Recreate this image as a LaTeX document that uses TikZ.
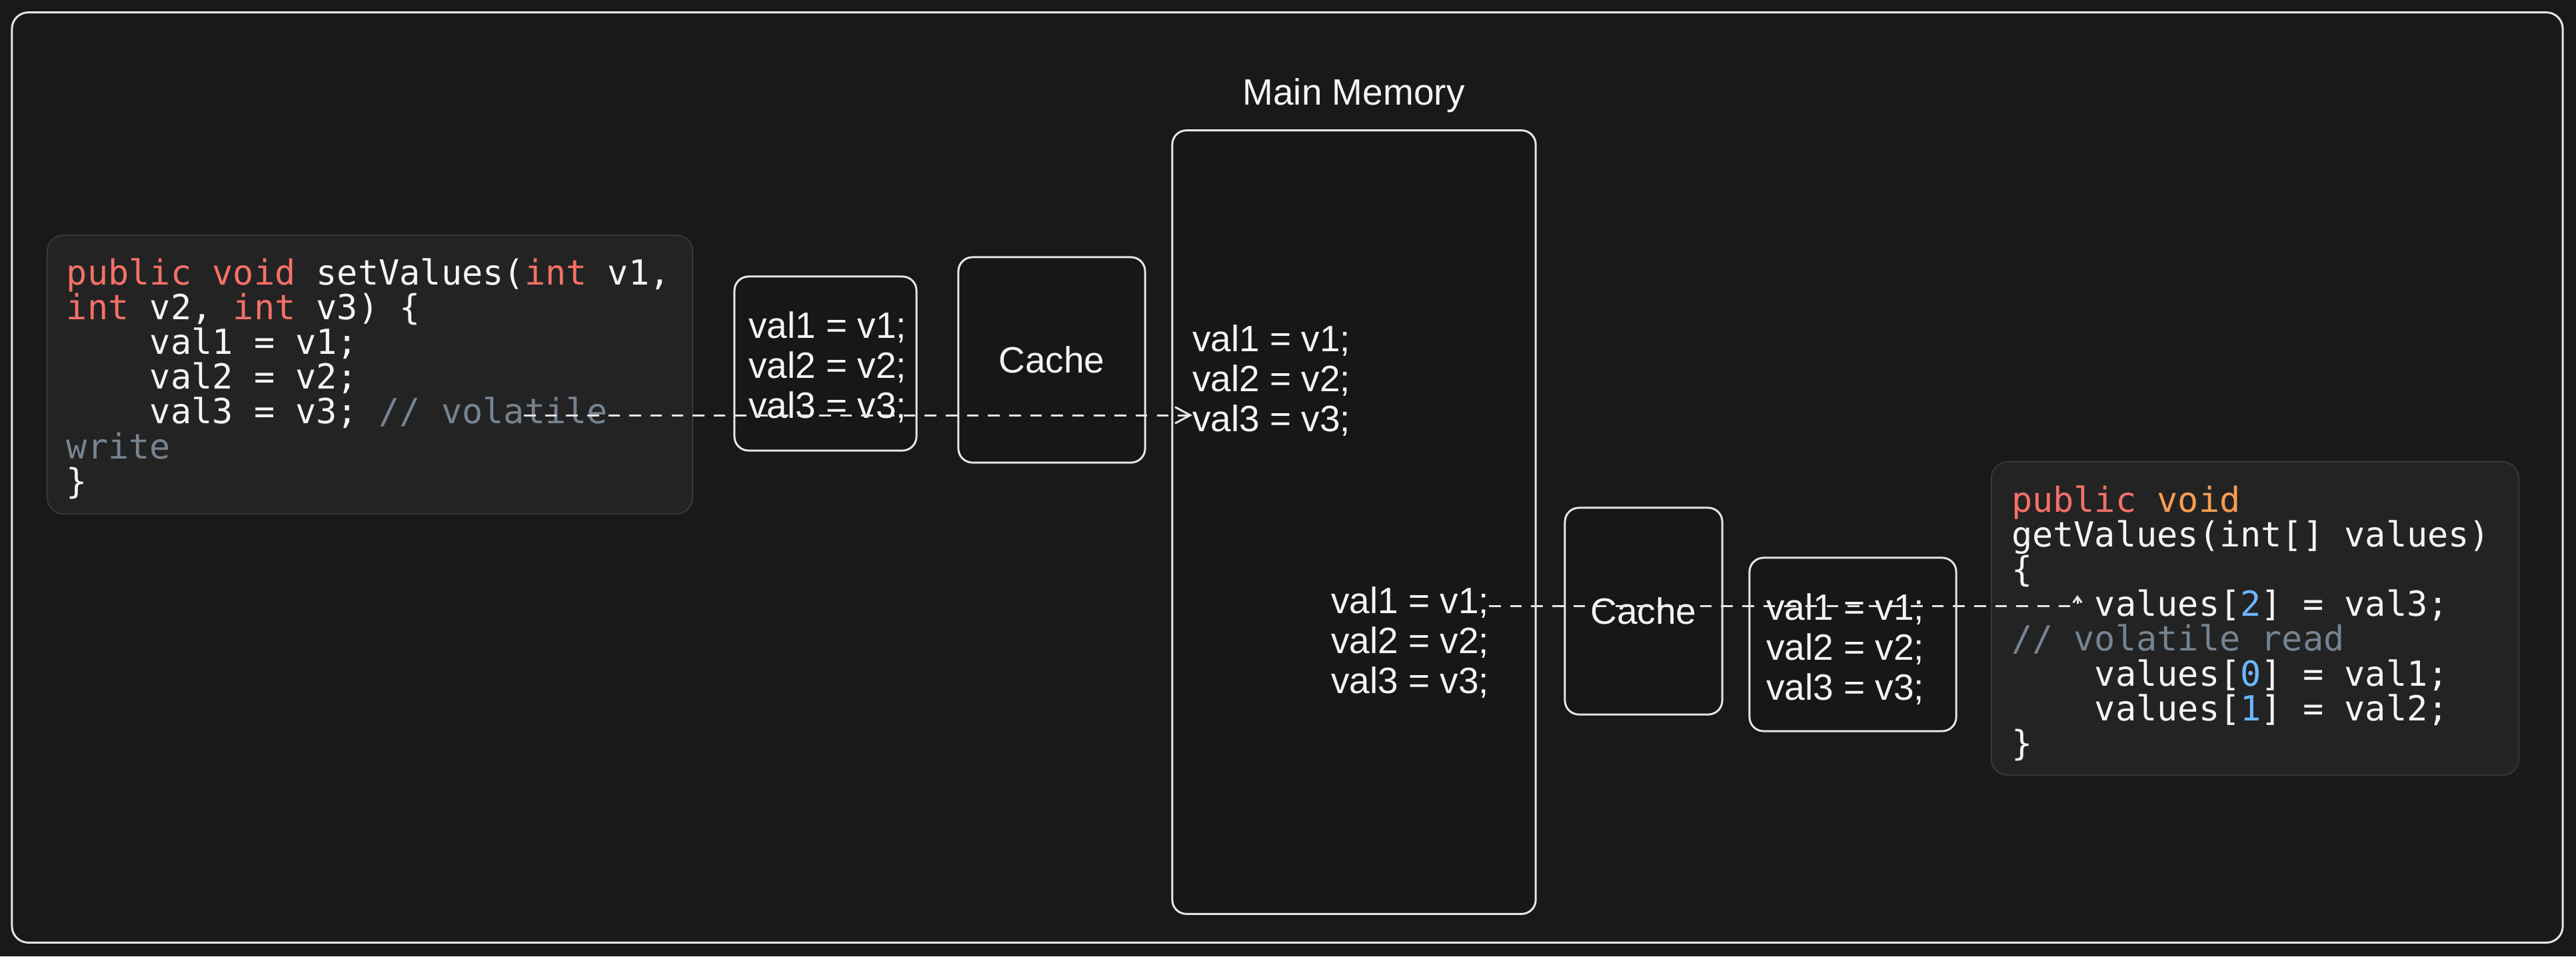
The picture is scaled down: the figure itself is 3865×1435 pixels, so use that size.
\documentclass[tikz,border=0pt]{standalone}
\usepackage{fontspec}
\setmainfont{Liberation Sans}
\newfontfamily\codefont{DejaVu Sans Mono}
\usetikzlibrary{arrows.meta}

\definecolor{bgcol}{HTML}{191919}
\definecolor{boxfill}{HTML}{171717}
\definecolor{codebg}{HTML}{232323}
\definecolor{codeline}{HTML}{363636}
\definecolor{strokecol}{HTML}{E6E6E6}
\definecolor{txtcol}{HTML}{F4F4F4}
\definecolor{kw}{HTML}{F47067}
\definecolor{kwo}{HTML}{F69D50}
\definecolor{cmt}{HTML}{768390}
\definecolor{num}{HTML}{6CB6FF}

\newcommand{\ind}{\hphantom{0000}}
\setlength{\lineskiplimit}{-100pt}

\begin{document}
\frenchspacing
\begin{tikzpicture}[x=0.01cm,y=-0.01cm,->,>={Straight Barb[length=6.5pt,width=7pt]}]
      \tikzstyle{frame}=[draw=strokecol,line width=0.85pt,rounded corners=7pt,inner sep=0pt,outer sep=0pt];
      \tikzstyle{box}=[draw=strokecol,fill=boxfill,line width=0.85pt,rounded corners=6pt,inner sep=0pt,outer sep=0pt,text=txtcol,font={\fontsize{15.65}{17.2}\selectfont}];
      \tikzstyle{codebox}=[draw=codeline,fill=codebg,line width=0.6pt,rounded corners=7pt,inner sep=0pt,outer sep=0pt];
      \tikzstyle{label}=[inner sep=0pt,outer sep=0pt,text=txtcol,font={\fontsize{15.65}{17.2}\selectfont}];
      \tikzstyle{code}=[inner sep=0pt,outer sep=0pt,text=txtcol,font={\codefont\fontsize{14.75}{14.85}\selectfont}];
      \tikzstyle{flow}=[draw=strokecol,line width=0.85pt,dash pattern=on 5pt off 4pt];

      \fill[bgcol] (0,0) rectangle (3865,1435);
      \useasboundingbox (0,0) rectangle (3865,1435);

      \node[frame,minimum width=38.25cm,minimum height=13.95cm](board) at (1931.5,716.5) {};

      % code blocks
      \node[codebox,minimum width=9.68cm,minimum height=4.18cm](setbox) at (555,562) {};
      \node[codebox,minimum width=7.91cm,minimum height=4.70cm](getbox) at (3383.5,928) {};

      \node[code,anchor=base west](setcode) at (100,427) {\vtop{%
        \hbox{\textcolor{kw}{public} \textcolor{kw}{void} setValues(\textcolor{kw}{int} v1,}
        \hbox{\textcolor{kw}{int} v2, \textcolor{kw}{int} v3) \{}
        \hbox{\ind val1 = v1;}
        \hbox{\ind val2 = v2;}
        \hbox{\ind val3 = v3; \textcolor{cmt}{// volatile}}
        \hbox{\textcolor{cmt}{write}}
        \hbox{\}}}};
      \node[code,anchor=base west](getcode) at (3018,768) {\vtop{%
        \hbox{\textcolor{kw}{public} \textcolor{kwo}{void}}
        \hbox{getValues(int[] values)}
        \hbox{\{}
        \hbox{\ind values[\textcolor{num}{2}] = val3;}
        \hbox{\textcolor{cmt}{// volatile read}}
        \hbox{\ind values[\textcolor{num}{0}] = val1;}
        \hbox{\ind values[\textcolor{num}{1}] = val2;}
        \hbox{\}}}};

      % memory and caches
      \node[box,minimum width=5.45cm,minimum height=11.75cm](mem) at (2031.5,783.5) {};
      \node[label,anchor=base](memtitle) at (2031,157) {Main Memory};
      \node[box,minimum width=2.73cm,minimum height=2.61cm](regs1) at (1238.5,545.5) {};
      \node[box,minimum width=2.80cm,minimum height=3.08cm](cache1) at (1578,540) {Cache};
      \node[box,minimum width=2.36cm,minimum height=3.10cm](cache2) at (2466,917) {Cache};
      \node[box,minimum width=3.10cm,minimum height=2.60cm](regs2) at (2780,967) {};

      \node[label,anchor=base west](regs1txt) at (1123,507) {\vtop{\hbox{val1 = v1;}\hbox{val2 = v2;}\hbox{val3 = v3;}}};
      \node[label,anchor=base west](memtop) at (1789,527) {\vtop{\hbox{val1 = v1;}\hbox{val2 = v2;}\hbox{val3 = v3;}}};
      \node[label,anchor=base west](memlow) at (1997,920) {\vtop{\hbox{val1 = v1;}\hbox{val2 = v2;}\hbox{val3 = v3;}}};
      \node[label,anchor=base west](regs2txt) at (2650,930) {\vtop{\hbox{val1 = v1;}\hbox{val2 = v2;}\hbox{val3 = v3;}}};

      % volatile write / read
      \coordinate (wstart) at (786,623);
      \coordinate (rbend) at (3117,909);
      \coordinate (rend) at (3117,893);

      \path (wstart) edge[flow] (memtop.west |- wstart);
      \draw[flow,-{Straight Barb[length=2.5pt,width=3.6pt]}] (memlow.east |- rbend) -- (rbend) -- (rend);

    \end{tikzpicture}
\end{document}
